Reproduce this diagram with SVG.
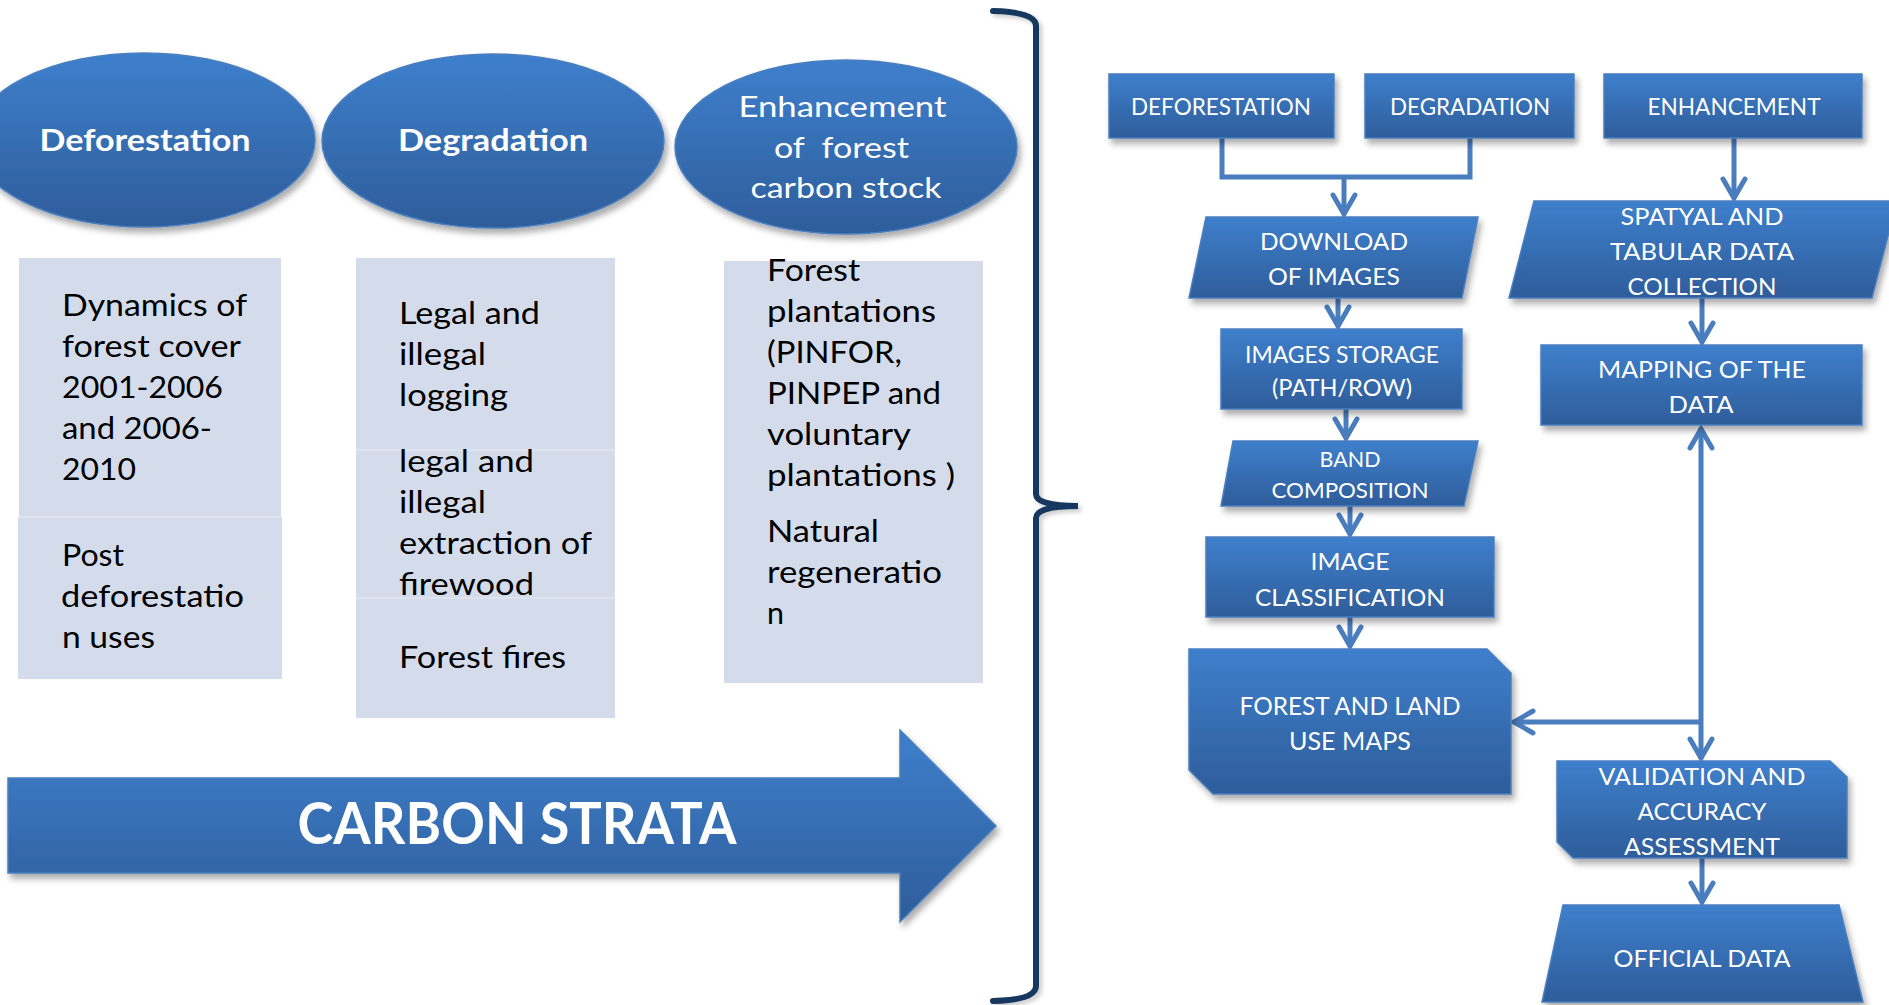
<svg xmlns="http://www.w3.org/2000/svg" width="1889" height="1005" viewBox="0 0 1889 1005">
<defs>
<linearGradient id="blue" x1="0" y1="0" x2="0" y2="1">
<stop offset="0" stop-color="#3E7FCC"/>
<stop offset="1" stop-color="#2E5D9A"/>
</linearGradient>
<filter id="sh" x="-10%" y="-10%" width="125%" height="135%">
<feDropShadow dx="3" dy="5" stdDeviation="3" flood-color="#000" flood-opacity="0.33"/>
</filter>
<filter id="shl" x="-10%" y="-5%" width="125%" height="115%">
<feDropShadow dx="3" dy="3" stdDeviation="2" flood-color="#000" flood-opacity="0.2"/>
</filter>
<marker id="chev" viewBox="-26 -15 30 30" refX="0" refY="0" markerWidth="30" markerHeight="30" markerUnits="userSpaceOnUse" orient="auto-start-reverse" overflow="visible">
<path d="M -20 -11 L -1 0 L -20 11" fill="none" stroke="#4A7DBE" stroke-width="5" stroke-linejoin="miter" stroke-linecap="round"/>
</marker>
<style>
.bl{fill:url(#blue);stroke:#4A7EBF;stroke-width:1.5;filter:url(#sh)}
.lt{fill:#D4DCEB}
.sep{stroke:#E2E7F1;stroke-width:1.5}
.w{fill:#FFFFFF;font-family:Lato,"Open Sans","Liberation Sans",sans-serif}
.k{fill:#000000;font-family:Lato,"Open Sans","Liberation Sans",sans-serif;font-size:30px}
.b{font-weight:bold}
.f{font-size:24px}
.c{stroke:#4A7DBE;stroke-width:5;fill:none}
</style>
</defs>
<rect width="1889" height="1005" fill="#FFFFFF"/>

<g id="ellipse-deforestation">
<ellipse cx="144" cy="140" rx="171" ry="87" class="bl"/>
<text class="w b" x="145" y="151" font-size="31" text-anchor="middle" textLength="211" lengthAdjust="spacingAndGlyphs">Deforestation</text>
</g>
<g id="ellipse-degradation">
<ellipse cx="493" cy="141" rx="171" ry="87" class="bl"/>
<text class="w b" x="493" y="151" font-size="31" text-anchor="middle" textLength="190" lengthAdjust="spacingAndGlyphs">Degradation</text>
</g>
<g id="ellipse-enhancement">
<ellipse cx="846" cy="147" rx="171" ry="87" class="bl"/>
<text class="w" font-size="28" text-anchor="middle">
<tspan x="846" y="117" textLength="208" lengthAdjust="spacingAndGlyphs">Enhancement</tspan>
<tspan x="845" y="158" textLength="135" lengthAdjust="spacingAndGlyphs" xml:space="preserve">of  forest</tspan>
<tspan x="846" y="198" textLength="191" lengthAdjust="spacingAndGlyphs">carbon stock</tspan>
</text>
</g>

<g id="box-deforestation">
<rect x="19" y="258" width="262" height="259" class="lt"/>
<rect x="18" y="517" width="264" height="162" class="lt"/>
<line x1="18" y1="517" x2="282" y2="517" class="sep"/>
<text class="k"><tspan x="62" y="316" textLength="185" lengthAdjust="spacingAndGlyphs">Dynamics of</tspan><tspan x="62" y="357" textLength="179" lengthAdjust="spacingAndGlyphs">forest cover</tspan><tspan x="62" y="398" textLength="161" lengthAdjust="spacingAndGlyphs">2001-2006</tspan><tspan x="62" y="439" textLength="150" lengthAdjust="spacingAndGlyphs">and 2006-</tspan><tspan x="62" y="480" textLength="74" lengthAdjust="spacingAndGlyphs">2010</tspan></text>
<text class="k"><tspan x="62" y="566" textLength="62" lengthAdjust="spacingAndGlyphs">Post</tspan><tspan x="61" y="607" textLength="183" lengthAdjust="spacingAndGlyphs">deforestatio</tspan><tspan x="62" y="648" textLength="93" lengthAdjust="spacingAndGlyphs">n uses</tspan></text>
</g>

<g id="box-degradation">
<rect x="356" y="258" width="259" height="192" class="lt"/>
<rect x="356" y="450" width="259" height="148" class="lt"/>
<rect x="356" y="598" width="259" height="120" class="lt"/>
<line x1="356" y1="450" x2="615" y2="450" class="sep"/>
<line x1="356" y1="598" x2="615" y2="598" class="sep"/>
<text class="k"><tspan x="399" y="324" textLength="141" lengthAdjust="spacingAndGlyphs">Legal and</tspan><tspan x="399" y="365" textLength="87" lengthAdjust="spacingAndGlyphs">illegal</tspan><tspan x="399" y="406" textLength="109" lengthAdjust="spacingAndGlyphs">logging</tspan></text>
<text class="k"><tspan x="399" y="472" textLength="135" lengthAdjust="spacingAndGlyphs">legal and</tspan><tspan x="399" y="513" textLength="87" lengthAdjust="spacingAndGlyphs">illegal</tspan><tspan x="399" y="554" textLength="193" lengthAdjust="spacingAndGlyphs">extraction of</tspan><tspan x="399" y="595" textLength="135" lengthAdjust="spacingAndGlyphs">firewood</tspan></text>
<text class="k" x="399" y="668" textLength="167" lengthAdjust="spacingAndGlyphs">Forest fires</text>
</g>

<g id="box-enhancement">
<rect x="724" y="261" width="259" height="422" class="lt"/>
<text class="k"><tspan x="767" y="281" textLength="93" lengthAdjust="spacingAndGlyphs">Forest</tspan><tspan x="767" y="322" textLength="169" lengthAdjust="spacingAndGlyphs">plantations</tspan><tspan x="767" y="363" textLength="135" lengthAdjust="spacingAndGlyphs">(PINFOR,</tspan><tspan x="767" y="404" textLength="174" lengthAdjust="spacingAndGlyphs">PINPEP and</tspan><tspan x="767" y="445" textLength="144" lengthAdjust="spacingAndGlyphs">voluntary</tspan><tspan x="767" y="486" textLength="188" lengthAdjust="spacingAndGlyphs">plantations )</tspan></text>
<text class="k"><tspan x="767" y="542" textLength="112" lengthAdjust="spacingAndGlyphs">Natural</tspan><tspan x="767" y="583" textLength="175" lengthAdjust="spacingAndGlyphs">regeneratio</tspan><tspan x="767" y="624" textLength="17" lengthAdjust="spacingAndGlyphs">n</tspan></text>
</g>

<g id="carbon-strata">
<polygon points="8,778 900,778 900,730 996,826 900,922 900,873 8,873" class="bl"/>
<text class="w b" x="517" y="844" font-size="57" text-anchor="middle" textLength="439" lengthAdjust="spacingAndGlyphs">CARBON STRATA</text>
</g>

<g id="brace">
<path d="M 993 11 Q 1036 12 1036 26 V 494 Q 1036 506 1078 506 Q 1036 506 1036 518 V 986 Q 1036 1000 993 1001" fill="none" stroke="#17375E" stroke-width="6" stroke-linecap="round" filter="url(#shl)"/>
</g>

<g id="connectors">
<path d="M1222 138 V177 H1470 V138" class="c"/>
<path d="M1344 177 V215" class="c" marker-end="url(#chev)"/>
<path d="M1734 138 V199" class="c" marker-end="url(#chev)"/>
<path d="M1338 298 V327" class="c" marker-end="url(#chev)"/>
<path d="M1346 409 V439" class="c" marker-end="url(#chev)"/>
<path d="M1350 506 V535" class="c" marker-end="url(#chev)"/>
<path d="M1350 617 V647" class="c" marker-end="url(#chev)"/>
<path d="M1702 298 V343" class="c" marker-end="url(#chev)"/>
<path d="M1701 428 V759" class="c" marker-start="url(#chev)" marker-end="url(#chev)"/>
<path d="M1701 722 H1513" class="c" marker-end="url(#chev)"/>
<path d="M1702 858 V903" class="c" marker-end="url(#chev)"/>
</g>

<g id="fc-deforestation">
<rect x="1109" y="74" width="225" height="64" class="bl"/>
<text class="w f" x="1221" y="115" text-anchor="middle" textLength="180" lengthAdjust="spacingAndGlyphs">DEFORESTATION</text>
</g>
<g id="fc-degradation">
<rect x="1365" y="74" width="209" height="64" class="bl"/>
<text class="w f" x="1470" y="115" text-anchor="middle" textLength="160" lengthAdjust="spacingAndGlyphs">DEGRADATION</text>
</g>
<g id="fc-enhancement">
<rect x="1604" y="74" width="258" height="64" class="bl"/>
<text class="w f" x="1734" y="115" text-anchor="middle" textLength="173" lengthAdjust="spacingAndGlyphs">ENHANCEMENT</text>
</g>
<g id="fc-download">
<polygon points="1206,217 1478,217 1462,298 1189,298" class="bl"/>
<text class="w f" text-anchor="middle"><tspan x="1334" y="250" textLength="148" lengthAdjust="spacingAndGlyphs">DOWNLOAD</tspan><tspan x="1334" y="285" textLength="132" lengthAdjust="spacingAndGlyphs">OF IMAGES</tspan></text>
</g>
<g id="fc-spatyal">
<polygon points="1534,201 1897,201 1872,298 1509,298" class="bl"/>
<text class="w f" text-anchor="middle"><tspan x="1702" y="225" textLength="163" lengthAdjust="spacingAndGlyphs">SPATYAL AND</tspan><tspan x="1702" y="260" textLength="184" lengthAdjust="spacingAndGlyphs">TABULAR DATA</tspan><tspan x="1702" y="295" textLength="149" lengthAdjust="spacingAndGlyphs">COLLECTION</tspan></text>
</g>
<g id="fc-storage">
<rect x="1221" y="329" width="241" height="80" class="bl"/>
<text class="w" font-size="23" text-anchor="middle"><tspan x="1342" y="363" textLength="194" lengthAdjust="spacingAndGlyphs">IMAGES STORAGE</tspan><tspan x="1342" y="396" textLength="140" lengthAdjust="spacingAndGlyphs">(PATH/ROW)</tspan></text>
</g>
<g id="fc-mapping">
<rect x="1541" y="345" width="321" height="80" class="bl"/>
<text class="w f" text-anchor="middle"><tspan x="1702" y="378" textLength="208" lengthAdjust="spacingAndGlyphs">MAPPING OF THE</tspan><tspan x="1701" y="413" textLength="65" lengthAdjust="spacingAndGlyphs">DATA</tspan></text>
</g>
<g id="fc-band">
<polygon points="1233,441 1478,441 1464,506 1221,506" class="bl"/>
<text class="w" font-size="22" text-anchor="middle"><tspan x="1350" y="467" textLength="61" lengthAdjust="spacingAndGlyphs">BAND</tspan><tspan x="1350" y="498" textLength="157" lengthAdjust="spacingAndGlyphs">COMPOSITION</tspan></text>
</g>
<g id="fc-classification">
<rect x="1206" y="537" width="288" height="80" class="bl"/>
<text class="w f" text-anchor="middle"><tspan x="1350" y="570" textLength="79" lengthAdjust="spacingAndGlyphs">IMAGE</tspan><tspan x="1350" y="606" textLength="190" lengthAdjust="spacingAndGlyphs">CLASSIFICATION</tspan></text>
</g>
<g id="fc-forest-maps">
<path d="M1189 649 H1487 L1511 673 V794 H1213 L1189 770 Z" class="bl"/>
<text class="w" font-size="25" text-anchor="middle"><tspan x="1350" y="715" textLength="221" lengthAdjust="spacingAndGlyphs">FOREST AND LAND</tspan><tspan x="1350" y="750" textLength="122" lengthAdjust="spacingAndGlyphs">USE MAPS</tspan></text>
</g>
<g id="fc-validation">
<path d="M1557 761 H1830 L1847 777 V858 H1573 L1557 842 Z" class="bl"/>
<text class="w f" text-anchor="middle"><tspan x="1702" y="785" textLength="207" lengthAdjust="spacingAndGlyphs">VALIDATION AND</tspan><tspan x="1702" y="820" textLength="129" lengthAdjust="spacingAndGlyphs">ACCURACY</tspan><tspan x="1702" y="855" textLength="156" lengthAdjust="spacingAndGlyphs">ASSESSMENT</tspan></text>
</g>
<g id="fc-official">
<polygon points="1563,905 1839,905 1863,1002 1542,1002" class="bl"/>
<text class="w f" x="1702" y="967" text-anchor="middle" textLength="177" lengthAdjust="spacingAndGlyphs">OFFICIAL DATA</text>
</g>
</svg>
